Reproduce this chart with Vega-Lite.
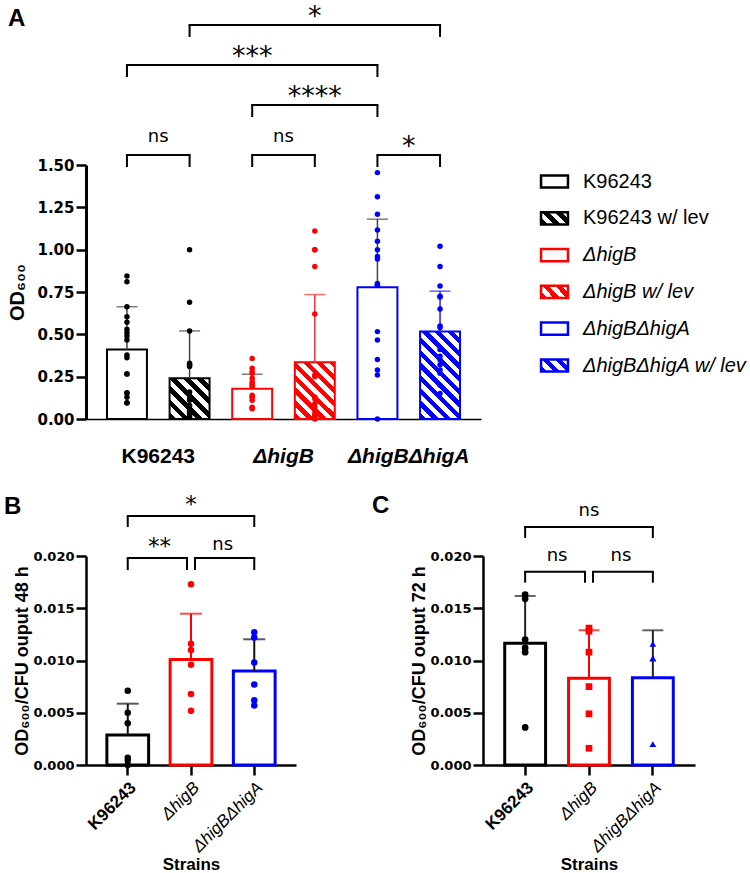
{
"$schema":"https://vega.github.io/schema/vega-lite/v6.json",
"background":"white",
"padding":{"left":3,"top":2,"right":5,"bottom":2},
"config":{"view":{"stroke":null},"font":"Liberation Sans","axis":{"grid":false}},
"datasets":{
"aBars":[
{"bar":"K96243","mean":0.41,"upper":0.663},
{"bar":"K96243 w/ lev","mean":0.24,"upper":0.52},
{"bar":"ΔhigB","mean":0.178,"upper":0.264},
{"bar":"ΔhigB w/ lev","mean":0.335,"upper":0.735},
{"bar":"ΔhigBΔhigA","mean":0.778,"upper":1.18},
{"bar":"ΔhigBΔhigA w/ lev","mean":0.516,"upper":0.755}],
"aPoints":[
{"bar":"K96243","value":0.845},{"bar":"K96243","value":0.81},{"bar":"K96243","value":0.663},{"bar":"K96243","value":0.604},{"bar":"K96243","value":0.571},{"bar":"K96243","value":0.53},{"bar":"K96243","value":0.51},{"bar":"K96243","value":0.49},{"bar":"K96243","value":0.467},{"bar":"K96243","value":0.378},{"bar":"K96243","value":0.362},{"bar":"K96243","value":0.268},{"bar":"K96243","value":0.265},{"bar":"K96243","value":0.155},{"bar":"K96243","value":0.152},{"bar":"K96243","value":0.128},{"bar":"K96243","value":0.096},{"bar":"K96243","value":0.094},
{"bar":"K96243 w/ lev","value":1.0},{"bar":"K96243 w/ lev","value":0.69},{"bar":"K96243 w/ lev","value":0.52},{"bar":"K96243 w/ lev","value":0.33},{"bar":"K96243 w/ lev","value":0.32},{"bar":"K96243 w/ lev","value":0.32},{"bar":"K96243 w/ lev","value":0.31},{"bar":"K96243 w/ lev","value":0.16},{"bar":"K96243 w/ lev","value":0.12},{"bar":"K96243 w/ lev","value":0.11},{"bar":"K96243 w/ lev","value":0.08},{"bar":"K96243 w/ lev","value":0.06},{"bar":"K96243 w/ lev","value":0.05},{"bar":"K96243 w/ lev","value":0.04},{"bar":"K96243 w/ lev","value":0.03},{"bar":"K96243 w/ lev","value":0.02},{"bar":"K96243 w/ lev","value":0.01},
{"bar":"ΔhigB","value":0.358},{"bar":"ΔhigB","value":0.30},{"bar":"ΔhigB","value":0.28},{"bar":"ΔhigB","value":0.27},{"bar":"ΔhigB","value":0.24},{"bar":"ΔhigB","value":0.22},{"bar":"ΔhigB","value":0.21},{"bar":"ΔhigB","value":0.20},{"bar":"ΔhigB","value":0.19},{"bar":"ΔhigB","value":0.14},{"bar":"ΔhigB","value":0.13},{"bar":"ΔhigB","value":0.125},{"bar":"ΔhigB","value":0.11},{"bar":"ΔhigB","value":0.07},{"bar":"ΔhigB","value":0.065},{"bar":"ΔhigB","value":0.06},
{"bar":"ΔhigB w/ lev","value":1.11},{"bar":"ΔhigB w/ lev","value":1.0},{"bar":"ΔhigB w/ lev","value":1.0},{"bar":"ΔhigB w/ lev","value":0.90},{"bar":"ΔhigB w/ lev","value":0.62},{"bar":"ΔhigB w/ lev","value":0.26},{"bar":"ΔhigB w/ lev","value":0.25},{"bar":"ΔhigB w/ lev","value":0.13},{"bar":"ΔhigB w/ lev","value":0.12},{"bar":"ΔhigB w/ lev","value":0.09},{"bar":"ΔhigB w/ lev","value":0.07},{"bar":"ΔhigB w/ lev","value":0.05},{"bar":"ΔhigB w/ lev","value":0.03},{"bar":"ΔhigB w/ lev","value":0.02},{"bar":"ΔhigB w/ lev","value":0.01},{"bar":"ΔhigB w/ lev","value":0.01},{"bar":"ΔhigB w/ lev","value":0.0},
{"bar":"ΔhigBΔhigA","value":1.455},{"bar":"ΔhigBΔhigA","value":1.313},{"bar":"ΔhigBΔhigA","value":1.209},{"bar":"ΔhigBΔhigA","value":1.116},{"bar":"ΔhigBΔhigA","value":1.05},{"bar":"ΔhigBΔhigA","value":1.0},{"bar":"ΔhigBΔhigA","value":0.96},{"bar":"ΔhigBΔhigA","value":0.945},{"bar":"ΔhigBΔhigA","value":0.80},{"bar":"ΔhigBΔhigA","value":0.79},{"bar":"ΔhigBΔhigA","value":0.79},{"bar":"ΔhigBΔhigA","value":0.516},{"bar":"ΔhigBΔhigA","value":0.467},{"bar":"ΔhigBΔhigA","value":0.352},{"bar":"ΔhigBΔhigA","value":0.29},{"bar":"ΔhigBΔhigA","value":0.26},{"bar":"ΔhigBΔhigA","value":0.0},
{"bar":"ΔhigBΔhigA w/ lev","value":1.02},{"bar":"ΔhigBΔhigA w/ lev","value":0.90},{"bar":"ΔhigBΔhigA w/ lev","value":0.785},{"bar":"ΔhigBΔhigA w/ lev","value":0.725},{"bar":"ΔhigBΔhigA w/ lev","value":0.72},{"bar":"ΔhigBΔhigA w/ lev","value":0.65},{"bar":"ΔhigBΔhigA w/ lev","value":0.55},{"bar":"ΔhigBΔhigA w/ lev","value":0.54},{"bar":"ΔhigBΔhigA w/ lev","value":0.41},{"bar":"ΔhigBΔhigA w/ lev","value":0.37},{"bar":"ΔhigBΔhigA w/ lev","value":0.35},{"bar":"ΔhigBΔhigA w/ lev","value":0.32},{"bar":"ΔhigBΔhigA w/ lev","value":0.29},{"bar":"ΔhigBΔhigA w/ lev","value":0.27},{"bar":"ΔhigBΔhigA w/ lev","value":0.2},{"bar":"ΔhigBΔhigA w/ lev","value":0.15}],
"aBrackets":[
{"from":"K96243","to":"K96243 w/ lev","level":1.559},
{"from":"ΔhigB","to":"ΔhigB w/ lev","level":1.559},
{"from":"ΔhigBΔhigA","to":"ΔhigBΔhigA w/ lev","level":1.559},
{"from":"ΔhigB","to":"ΔhigBΔhigA","level":1.854},
{"from":"K96243","to":"ΔhigBΔhigA","level":2.09},
{"from":"K96243 w/ lev","to":"ΔhigBΔhigA w/ lev","level":2.327}],
"aFar":[
{"mid":"ΔhigB","level":2.09,"label":"***"},
{"mid":"ΔhigB w/ lev","level":1.854,"label":"****"},
{"mid":"ΔhigB w/ lev","level":2.327,"label":"*"}],
"aNear":[
{"group":"K96243","level":1.559,"label":"ns"},
{"group":"ΔhigB","level":1.559,"label":"ns"},
{"group":"ΔhigBΔhigA","level":1.559,"label":"*"}],
"bBars":[
{"strain":"K96243","mean":0.00287,"upper":0.00587},
{"strain":"ΔhigB","mean":0.0101,"upper":0.01448},
{"strain":"ΔhigBΔhigA","mean":0.009,"upper":0.01203}],
"bPoints":[
{"strain":"K96243","value":0.0071},{"strain":"K96243","value":0.0050},{"strain":"K96243","value":0.0040},{"strain":"K96243","value":0.0007},{"strain":"K96243","value":0.0004},{"strain":"K96243","value":0.0},
{"strain":"ΔhigB","value":0.0173},{"strain":"ΔhigB","value":0.0116},{"strain":"ΔhigB","value":0.0110},{"strain":"ΔhigB","value":0.0096},{"strain":"ΔhigB","value":0.0068},{"strain":"ΔhigB","value":0.0052},
{"strain":"ΔhigBΔhigA","value":0.0127},{"strain":"ΔhigBΔhigA","value":0.0122},{"strain":"ΔhigBΔhigA","value":0.0098},{"strain":"ΔhigBΔhigA","value":0.0077},{"strain":"ΔhigBΔhigA","value":0.0062},{"strain":"ΔhigBΔhigA","value":0.0057}],
"bBrackets":[
{"from":"K96243","to":"ΔhigB","level":0.0198},
{"from":"ΔhigB","to":"ΔhigBΔhigA","level":0.0198},
{"from":"K96243","to":"ΔhigBΔhigA","level":0.02383}],
"bNear":[
{"from":"K96243","level":0.0198,"label":"**"},
{"from":"ΔhigB","level":0.0198,"label":"ns"}],
"bFar":[{"mid":"ΔhigB","level":0.02383,"label":"*"}],
"cBars":[
{"strain":"K96243","mean":0.01164,"upper":0.01617},
{"strain":"ΔhigB","mean":0.0083,"upper":0.0129},
{"strain":"ΔhigBΔhigA","mean":0.00836,"upper":0.01289}],
"cPoints":[
{"strain":"K96243","value":0.0163},{"strain":"K96243","value":0.0159},{"strain":"K96243","value":0.0120},{"strain":"K96243","value":0.0112},{"strain":"K96243","value":0.0108},{"strain":"K96243","value":0.0036},
{"strain":"ΔhigB","value":0.0131},{"strain":"ΔhigB","value":0.0128},{"strain":"ΔhigB","value":0.0108},{"strain":"ΔhigB","value":0.0075},{"strain":"ΔhigB","value":0.0049},{"strain":"ΔhigB","value":0.0016},
{"strain":"ΔhigBΔhigA","value":0.0116},{"strain":"ΔhigBΔhigA","value":0.0102},{"strain":"ΔhigBΔhigA","value":0.0102},{"strain":"ΔhigBΔhigA","value":0.0020}],
"cBrackets":[
{"from":"K96243","to":"ΔhigB","level":0.0185},
{"from":"ΔhigB","to":"ΔhigBΔhigA","level":0.0185},
{"from":"K96243","to":"ΔhigBΔhigA","level":0.02278}],
"cNear":[
{"from":"K96243","level":0.0185,"label":"ns"},
{"from":"ΔhigB","level":0.0185,"label":"ns"}],
"cFar":[{"mid":"ΔhigB","level":0.02278,"label":"ns"}]
},
"spacing":27,
"resolve":{"scale":{"stroke":"independent","fill":"independent","color":"independent","shape":"independent"}},
"vconcat":[
{
"width":395,"height":254,
"title":{"text":"A","anchor":"start","frame":"bounds","font":"Liberation Sans","fontSize":24,"fontWeight":"bold","color":"#000","baseline":"top","offset":-28},
"resolve":{"scale":{"x":"independent"}},
"layer":[
{"layer":[
{"data":{"name":"aBars"},
"mark":{"type":"bar","strokeWidth":2,"strokeJoin":"miter"},
"encoding":{
"x":{"field":"bar","type":"nominal","sort":null,"scale":{"type":"band","domain":["K96243","K96243 w/ lev","ΔhigB","ΔhigB w/ lev","ΔhigBΔhigA","ΔhigBΔhigA w/ lev"],"paddingInner":0.362,"paddingOuter":0.335},"axis":null},
"y":{"field":"mean","type":"quantitative","scale":{"domain":[0,1.5],"nice":false},"axis":{"title":"OD₆₀₀","values":[0,0.25,0.5,0.75,1,1.25,1.5],"format":".2f","domainColor":"#000","domainWidth":3,"tickColor":"#000","tickWidth":2.5,"tickSize":10,"labelFont":"DejaVu Sans","labelFontSize":15,"labelFontWeight":"bold","labelColor":"#000","labelPadding":2,"titleFont":"Liberation Sans","titleFontSize":20,"titleFontWeight":"bold","titleColor":"#000","titlePadding":9}},
"stroke":{"field":"bar","type":"nominal","scale":{"domain":["K96243","K96243 w/ lev","ΔhigB","ΔhigB w/ lev","ΔhigBΔhigA","ΔhigBΔhigA w/ lev"],"range":["#000000","#000000","#ff0000","#ff0000","#0000ff","#0000ff"]},
"legend":{"orient":"none","legendX":455,"legendY":3,"title":null,"symbolType":"M-1.1,-0.5H1.1V0.5H-1.1Z","symbolSize":600,"symbolStrokeWidth":2.5,"symbolFillColor":"#ffffff","labelFont":"Liberation Sans","labelFontSize":20,"labelColor":"#000","labelOffset":15,"rowPadding":11.8,"labelLimit":300,
"encoding":{
"symbols":{"fill":{"condition":[
{"test":"datum.value === 'K96243 w/ lev'","value":{"gradient":"linear","x1":0,"y1":1,"x2":1.2,"y2":0.46,"stops":[{"offset":0,"color":"#000000"},{"offset":0.1667,"color":"#000000"},{"offset":0.1667,"color":"#ffffff"},{"offset":0.3333,"color":"#ffffff"},{"offset":0.3333,"color":"#000000"},{"offset":0.5,"color":"#000000"},{"offset":0.5,"color":"#ffffff"},{"offset":0.6667,"color":"#ffffff"},{"offset":0.6667,"color":"#000000"},{"offset":0.8333,"color":"#000000"},{"offset":0.8333,"color":"#ffffff"},{"offset":1,"color":"#ffffff"}]}},
{"test":"datum.value === 'ΔhigB w/ lev'","value":{"gradient":"linear","x1":0,"y1":1,"x2":1.2,"y2":0.46,"stops":[{"offset":0,"color":"#ff0000"},{"offset":0.1667,"color":"#ff0000"},{"offset":0.1667,"color":"#ffffff"},{"offset":0.3333,"color":"#ffffff"},{"offset":0.3333,"color":"#ff0000"},{"offset":0.5,"color":"#ff0000"},{"offset":0.5,"color":"#ffffff"},{"offset":0.6667,"color":"#ffffff"},{"offset":0.6667,"color":"#ff0000"},{"offset":0.8333,"color":"#ff0000"},{"offset":0.8333,"color":"#ffffff"},{"offset":1,"color":"#ffffff"}]}},
{"test":"datum.value === 'ΔhigBΔhigA w/ lev'","value":{"gradient":"linear","x1":0,"y1":1,"x2":1.2,"y2":0.46,"stops":[{"offset":0,"color":"#0000ff"},{"offset":0.1667,"color":"#0000ff"},{"offset":0.1667,"color":"#ffffff"},{"offset":0.3333,"color":"#ffffff"},{"offset":0.3333,"color":"#0000ff"},{"offset":0.5,"color":"#0000ff"},{"offset":0.5,"color":"#ffffff"},{"offset":0.6667,"color":"#ffffff"},{"offset":0.6667,"color":"#0000ff"},{"offset":0.8333,"color":"#0000ff"},{"offset":0.8333,"color":"#ffffff"},{"offset":1,"color":"#ffffff"}]}}
],"value":"#ffffff"}},
"labels":{"fontStyle":{"condition":{"test":"indexof(datum.value, 'Δ') === 0","value":"italic"},"value":"normal"}}
}}},
"fill":{"condition":[
{"test":"datum.bar === 'K96243 w/ lev'","value":{"gradient":"linear","x1":0,"y1":1,"x2":0.99,"y2":-0.01,"stops":[{"offset":0,"color":"#000000"},{"offset":0.0833,"color":"#000000"},{"offset":0.0833,"color":"#ffffff"},{"offset":0.1667,"color":"#ffffff"},{"offset":0.1667,"color":"#000000"},{"offset":0.25,"color":"#000000"},{"offset":0.25,"color":"#ffffff"},{"offset":0.3333,"color":"#ffffff"},{"offset":0.3333,"color":"#000000"},{"offset":0.4167,"color":"#000000"},{"offset":0.4167,"color":"#ffffff"},{"offset":0.5,"color":"#ffffff"},{"offset":0.5,"color":"#000000"},{"offset":0.5833,"color":"#000000"},{"offset":0.5833,"color":"#ffffff"},{"offset":0.6667,"color":"#ffffff"},{"offset":0.6667,"color":"#000000"},{"offset":0.75,"color":"#000000"},{"offset":0.75,"color":"#ffffff"},{"offset":0.8333,"color":"#ffffff"},{"offset":0.8333,"color":"#000000"},{"offset":0.9167,"color":"#000000"},{"offset":0.9167,"color":"#ffffff"},{"offset":1,"color":"#ffffff"}]}},
{"test":"datum.bar === 'ΔhigB w/ lev'","value":{"gradient":"linear","x1":0,"y1":1,"x2":0.8,"y2":-0.14,"stops":[{"offset":0,"color":"#ff0000"},{"offset":0.0667,"color":"#ff0000"},{"offset":0.0667,"color":"#ffffff"},{"offset":0.1333,"color":"#ffffff"},{"offset":0.1333,"color":"#ff0000"},{"offset":0.2,"color":"#ff0000"},{"offset":0.2,"color":"#ffffff"},{"offset":0.2667,"color":"#ffffff"},{"offset":0.2667,"color":"#ff0000"},{"offset":0.3333,"color":"#ff0000"},{"offset":0.3333,"color":"#ffffff"},{"offset":0.4,"color":"#ffffff"},{"offset":0.4,"color":"#ff0000"},{"offset":0.4667,"color":"#ff0000"},{"offset":0.4667,"color":"#ffffff"},{"offset":0.5333,"color":"#ffffff"},{"offset":0.5333,"color":"#ff0000"},{"offset":0.6,"color":"#ff0000"},{"offset":0.6,"color":"#ffffff"},{"offset":0.6667,"color":"#ffffff"},{"offset":0.6667,"color":"#ff0000"},{"offset":0.7333,"color":"#ff0000"},{"offset":0.7333,"color":"#ffffff"},{"offset":0.8,"color":"#ffffff"},{"offset":0.8,"color":"#ff0000"},{"offset":0.8667,"color":"#ff0000"},{"offset":0.8667,"color":"#ffffff"},{"offset":0.9333,"color":"#ffffff"},{"offset":0.9333,"color":"#ff0000"},{"offset":1,"color":"#ff0000"}]}},
{"test":"datum.bar === 'ΔhigBΔhigA w/ lev'","value":{"gradient":"linear","x1":0,"y1":1,"x2":0.55,"y2":-0.2,"stops":[{"offset":0,"color":"#0000ff"},{"offset":0.05,"color":"#0000ff"},{"offset":0.05,"color":"#ffffff"},{"offset":0.1,"color":"#ffffff"},{"offset":0.1,"color":"#0000ff"},{"offset":0.15,"color":"#0000ff"},{"offset":0.15,"color":"#ffffff"},{"offset":0.2,"color":"#ffffff"},{"offset":0.2,"color":"#0000ff"},{"offset":0.25,"color":"#0000ff"},{"offset":0.25,"color":"#ffffff"},{"offset":0.3,"color":"#ffffff"},{"offset":0.3,"color":"#0000ff"},{"offset":0.35,"color":"#0000ff"},{"offset":0.35,"color":"#ffffff"},{"offset":0.4,"color":"#ffffff"},{"offset":0.4,"color":"#0000ff"},{"offset":0.45,"color":"#0000ff"},{"offset":0.45,"color":"#ffffff"},{"offset":0.5,"color":"#ffffff"},{"offset":0.5,"color":"#0000ff"},{"offset":0.55,"color":"#0000ff"},{"offset":0.55,"color":"#ffffff"},{"offset":0.6,"color":"#ffffff"},{"offset":0.6,"color":"#0000ff"},{"offset":0.65,"color":"#0000ff"},{"offset":0.65,"color":"#ffffff"},{"offset":0.7,"color":"#ffffff"},{"offset":0.7,"color":"#0000ff"},{"offset":0.75,"color":"#0000ff"},{"offset":0.75,"color":"#ffffff"},{"offset":0.8,"color":"#ffffff"},{"offset":0.8,"color":"#0000ff"},{"offset":0.85,"color":"#0000ff"},{"offset":0.85,"color":"#ffffff"},{"offset":0.9,"color":"#ffffff"},{"offset":0.9,"color":"#0000ff"},{"offset":0.95,"color":"#0000ff"},{"offset":0.95,"color":"#ffffff"},{"offset":1,"color":"#ffffff"}]}}
],"value":"#ffffff"}
}},
{"data":{"name":"aBars"},"mark":{"type":"rule","strokeWidth":1.5},
"encoding":{"x":{"field":"bar","type":"nominal"},"y":{"field":"mean","type":"quantitative"},"y2":{"field":"upper"},
"color":{"condition":[{"test":"datum.bar === 'ΔhigB w/ lev'","value":"#ff3030"},{"test":"datum.bar === 'ΔhigBΔhigA w/ lev'","value":"#2020ff"}],"value":"#444444"}}},
{"data":{"name":"aBars"},"mark":{"type":"tick","orient":"horizontal","size":21,"thickness":1.5},
"encoding":{"x":{"field":"bar","type":"nominal"},"y":{"field":"upper","type":"quantitative"},
"color":{"condition":[{"test":"datum.bar === 'ΔhigB w/ lev'","value":"#ff3030"},{"test":"datum.bar === 'ΔhigBΔhigA w/ lev'","value":"#2020ff"}],"value":"#444444"}}},
{"data":{"name":"aPoints"},"mark":{"type":"circle","size":30,"opacity":1},
"encoding":{"x":{"field":"bar","type":"nominal"},"y":{"field":"value","type":"quantitative"},
"fill":{"field":"bar","type":"nominal","scale":{"domain":["ΔhigBΔhigA w/ lev","ΔhigBΔhigA","ΔhigB w/ lev","ΔhigB","K96243 w/ lev","K96243"],"range":["#0000ff","#0000ff","#ff0000","#ff0000","#000000","#000000"]},"legend":null}}},
{"data":{"name":"aBrackets"},"mark":{"type":"rule","stroke":"#000","strokeWidth":2,"strokeCap":"square"},
"encoding":{"x":{"field":"from","type":"nominal"},"x2":{"field":"to"},"y":{"field":"level","type":"quantitative"}}},
{"data":{"name":"aBrackets"},"mark":{"type":"rule","stroke":"#000","strokeWidth":2,"y2Offset":12},
"encoding":{"x":{"field":"from","type":"nominal"},"y":{"field":"level","type":"quantitative"},"y2":{"field":"level"}}},
{"data":{"name":"aBrackets"},"mark":{"type":"rule","stroke":"#000","strokeWidth":2,"y2Offset":12},
"encoding":{"x":{"field":"to","type":"nominal"},"y":{"field":"level","type":"quantitative"},"y2":{"field":"level"}}},
{"data":{"name":"aFar"},"mark":{"type":"text","font":"DejaVu Sans","fontSize":27,"baseline":"alphabetic","color":"#000"},
"encoding":{"x":{"field":"mid","type":"nominal"},"y":{"field":"level","type":"quantitative"},"text":{"field":"label"}}}
]},
{"layer":[
{"data":{"name":"aNear"},"transform":[{"filter":"datum.label === 'ns'"}],
"mark":{"type":"text","font":"DejaVu Sans","fontSize":18,"baseline":"alphabetic","dy":-13,"color":"#000"},
"encoding":{
"x":{"field":"group","type":"nominal","sort":null,"scale":{"type":"band","domain":["K96243","ΔhigB","ΔhigBΔhigA"],"paddingInner":0,"paddingOuter":0.077},
"axis":{"orient":"bottom","title":null,"domainColor":"#000","domainWidth":1.5,"ticks":false,"labelAngle":0,"labelFont":"Liberation Sans","labelFontSize":21,"labelFontWeight":"bold","labelColor":"#000","labelPadding":26,"labelFontStyle":{"condition":{"test":"datum.value !== 'K96243'","value":"italic"},"value":"normal"}}},
"y":{"field":"level","type":"quantitative"},"text":{"field":"label"}}},
{"data":{"name":"aNear"},"transform":[{"filter":"datum.label !== 'ns'"}],
"mark":{"type":"text","font":"DejaVu Sans","fontSize":27,"baseline":"alphabetic","color":"#000"},
"encoding":{"x":{"field":"group","type":"nominal"},"y":{"field":"level","type":"quantitative"},"text":{"field":"label"}}}
]}
]
},
{
"hconcat":[
{
"width":210,"height":209,
"title":{"text":"B","anchor":"start","frame":"bounds","font":"Liberation Sans","fontSize":24,"fontWeight":"bold","color":"#000","baseline":"top","offset":-25,"dx":-10},
"layer":[
{"data":{"name":"bBars"},"mark":{"type":"bar","strokeWidth":3,"fill":"#ffffff","strokeJoin":"miter"},
"encoding":{
"x":{"field":"strain","type":"nominal","sort":null,"scale":{"type":"band","domain":["K96243","ΔhigB","ΔhigBΔhigA"],"paddingInner":0.34,"paddingOuter":0.33},
"axis":{"title":"Strains","labelAngle":-45,"labelFont":"Liberation Sans","labelFontSize":17,"labelColor":"#000","labelFontWeight":{"condition":{"test":"datum.value === 'K96243'","value":"bold"},"value":"normal"},"labelFontStyle":{"condition":{"test":"datum.value !== 'K96243'","value":"italic"},"value":"normal"},"tickSize":10,"tickWidth":2.5,"tickColor":"#000","domainWidth":2.5,"domainColor":"#000","labelPadding":4,"titleFont":"Liberation Sans","titleFontSize":17,"titleFontWeight":"bold","titleColor":"#000","titlePadding":2}},
"y":{"field":"mean","type":"quantitative","scale":{"domain":[0,0.02],"nice":false},
"axis":{"title":"OD₆₀₀/CFU ouput 48 h","values":[0,0.005,0.01,0.015,0.02],"format":".3f","domainColor":"#000","domainWidth":2.5,"tickColor":"#000","tickWidth":2.5,"tickSize":10,"labelFont":"DejaVu Sans","labelFontSize":13,"labelFontWeight":"bold","labelColor":"#000","labelPadding":2,"titleFont":"Liberation Sans","titleFontSize":18,"titleFontWeight":"bold","titleColor":"#000","titlePadding":1}},
"stroke":{"field":"strain","type":"nominal","scale":{"domain":["K96243","ΔhigB","ΔhigBΔhigA"],"range":["#000000","#ff0000","#0000ff"]},"legend":null}}},
{"data":{"name":"bBars"},"mark":{"type":"rule","strokeWidth":2},
"encoding":{"x":{"field":"strain","type":"nominal"},"y":{"field":"mean","type":"quantitative"},"y2":{"field":"upper"},
"color":{"condition":{"test":"datum.strain === 'ΔhigB'","value":"#ff0000"},"value":"#111111"}}},
{"data":{"name":"bBars"},"mark":{"type":"tick","orient":"horizontal","size":22,"thickness":2},
"encoding":{"x":{"field":"strain","type":"nominal"},"y":{"field":"upper","type":"quantitative"},
"color":{"condition":{"test":"datum.strain === 'ΔhigB'","value":"#ff0000"},"value":"#111111"}}},
{"data":{"name":"bPoints"},"mark":{"type":"circle","size":42,"opacity":1},
"encoding":{"x":{"field":"strain","type":"nominal"},"y":{"field":"value","type":"quantitative"},
"fill":{"field":"strain","type":"nominal","scale":{"domain":["ΔhigBΔhigA","ΔhigB","K96243"],"range":["#0000ff","#ff0000","#000000"]},"legend":null}}},
{"data":{"name":"bBrackets"},"transform":[{"filter":"datum.to === 'ΔhigB'"}],"layer":[
{"mark":{"type":"rule","stroke":"#000","strokeWidth":2,"strokeCap":"square","x2Offset":-4},"encoding":{"x":{"field":"from","type":"nominal"},"x2":{"field":"to"},"y":{"field":"level","type":"quantitative"}}},
{"mark":{"type":"rule","stroke":"#000","strokeWidth":2,"y2Offset":12},"encoding":{"x":{"field":"from","type":"nominal"},"y":{"field":"level","type":"quantitative"},"y2":{"field":"level"}}},
{"mark":{"type":"rule","stroke":"#000","strokeWidth":2,"y2Offset":12,"xOffset":-4},"encoding":{"x":{"field":"to","type":"nominal"},"y":{"field":"level","type":"quantitative"},"y2":{"field":"level"}}}
]},
{"data":{"name":"bBrackets"},"transform":[{"filter":"datum.from === 'ΔhigB'"}],"layer":[
{"mark":{"type":"rule","stroke":"#000","strokeWidth":2,"strokeCap":"square","xOffset":4},"encoding":{"x":{"field":"from","type":"nominal"},"x2":{"field":"to"},"y":{"field":"level","type":"quantitative"}}},
{"mark":{"type":"rule","stroke":"#000","strokeWidth":2,"y2Offset":12,"xOffset":4},"encoding":{"x":{"field":"from","type":"nominal"},"y":{"field":"level","type":"quantitative"},"y2":{"field":"level"}}},
{"mark":{"type":"rule","stroke":"#000","strokeWidth":2,"y2Offset":12},"encoding":{"x":{"field":"to","type":"nominal"},"y":{"field":"level","type":"quantitative"},"y2":{"field":"level"}}}
]},
{"data":{"name":"bBrackets"},"transform":[{"filter":"datum.from === 'K96243' && datum.to === 'ΔhigBΔhigA'"}],"layer":[
{"mark":{"type":"rule","stroke":"#000","strokeWidth":2,"strokeCap":"square"},"encoding":{"x":{"field":"from","type":"nominal"},"x2":{"field":"to"},"y":{"field":"level","type":"quantitative"}}},
{"mark":{"type":"rule","stroke":"#000","strokeWidth":2,"y2Offset":11},"encoding":{"x":{"field":"from","type":"nominal"},"y":{"field":"level","type":"quantitative"},"y2":{"field":"level"}}},
{"mark":{"type":"rule","stroke":"#000","strokeWidth":2,"y2Offset":11},"encoding":{"x":{"field":"to","type":"nominal"},"y":{"field":"level","type":"quantitative"},"y2":{"field":"level"}}}
]},
{"data":{"name":"bNear"},"transform":[{"filter":"datum.label !== 'ns'"}],"mark":{"type":"text","font":"DejaVu Sans","fontSize":23,"baseline":"alphabetic","dy":-4,"color":"#000"},
"encoding":{"x":{"field":"from","type":"nominal","bandPosition":1.258},"y":{"field":"level","type":"quantitative"},"text":{"field":"label"}}},
{"data":{"name":"bNear"},"transform":[{"filter":"datum.label === 'ns'"}],"mark":{"type":"text","font":"DejaVu Sans","fontSize":18,"baseline":"alphabetic","dy":-8,"color":"#000"},
"encoding":{"x":{"field":"from","type":"nominal","bandPosition":1.258},"y":{"field":"level","type":"quantitative"},"text":{"field":"label"}}},
{"data":{"name":"bFar"},"mark":{"type":"text","font":"DejaVu Sans","fontSize":23,"baseline":"alphabetic","dy":-4,"color":"#000"},
"encoding":{"x":{"field":"mid","type":"nominal"},"y":{"field":"level","type":"quantitative"},"text":{"field":"label"}}}
]
},
{
"width":212,"height":209,
"title":{"text":"C","anchor":"start","frame":"bounds","font":"Liberation Sans","fontSize":24,"fontWeight":"bold","color":"#000","baseline":"top","offset":-16,"dx":-39},
"layer":[
{"data":{"name":"cBars"},"mark":{"type":"bar","strokeWidth":3,"fill":"#ffffff","strokeJoin":"miter"},
"encoding":{
"x":{"field":"strain","type":"nominal","sort":null,"scale":{"type":"band","domain":["K96243","ΔhigB","ΔhigBΔhigA"],"paddingInner":0.36,"paddingOuter":0.34},
"axis":{"title":"Strains","labelAngle":-45,"labelFont":"Liberation Sans","labelFontSize":17,"labelColor":"#000","labelFontWeight":{"condition":{"test":"datum.value === 'K96243'","value":"bold"},"value":"normal"},"labelFontStyle":{"condition":{"test":"datum.value !== 'K96243'","value":"italic"},"value":"normal"},"tickSize":10,"tickWidth":2.5,"tickColor":"#000","domainWidth":2.5,"domainColor":"#000","labelPadding":4,"titleFont":"Liberation Sans","titleFontSize":17,"titleFontWeight":"bold","titleColor":"#000","titlePadding":2}},
"y":{"field":"mean","type":"quantitative","scale":{"domain":[0,0.02],"nice":false},
"axis":{"title":"OD₆₀₀/CFU ouput 72 h","values":[0,0.005,0.01,0.015,0.02],"format":".3f","domainColor":"#000","domainWidth":2.5,"tickColor":"#000","tickWidth":2.5,"tickSize":10,"labelFont":"DejaVu Sans","labelFontSize":13,"labelFontWeight":"bold","labelColor":"#000","labelPadding":2,"titleFont":"Liberation Sans","titleFontSize":18,"titleFontWeight":"bold","titleColor":"#000","titlePadding":1}},
"stroke":{"field":"strain","type":"nominal","scale":{"domain":["K96243","ΔhigB","ΔhigBΔhigA"],"range":["#000000","#ff0000","#0000ff"]},"legend":null}}},
{"data":{"name":"cBars"},"mark":{"type":"rule","strokeWidth":2},
"encoding":{"x":{"field":"strain","type":"nominal"},"y":{"field":"mean","type":"quantitative"},"y2":{"field":"upper"},
"color":{"condition":{"test":"datum.strain === 'ΔhigB'","value":"#ff0000"},"value":"#222222"}}},
{"data":{"name":"cBars"},"mark":{"type":"tick","orient":"horizontal","size":21,"thickness":2},
"encoding":{"x":{"field":"strain","type":"nominal"},"y":{"field":"upper","type":"quantitative"},
"color":{"condition":{"test":"datum.strain === 'ΔhigB'","value":"#ff0000"},"value":"#222222"}}},
{"data":{"name":"cPoints"},"mark":{"type":"point","filled":true,"size":45,"opacity":1},
"encoding":{"x":{"field":"strain","type":"nominal"},"y":{"field":"value","type":"quantitative"},
"color":{"field":"strain","type":"nominal","scale":{"domain":["ΔhigBΔhigA","ΔhigB","K96243"],"range":["#0000ff","#ff0000","#000000"]},"legend":null},
"shape":{"field":"strain","type":"nominal","scale":{"domain":["K96243","ΔhigB","ΔhigBΔhigA"],"range":["circle","square","triangle-up"]},"legend":null}}},
{"data":{"name":"cBrackets"},"transform":[{"filter":"datum.to === 'ΔhigB'"}],"layer":[
{"mark":{"type":"rule","stroke":"#000","strokeWidth":2,"strokeCap":"square","x2Offset":-4},"encoding":{"x":{"field":"from","type":"nominal"},"x2":{"field":"to"},"y":{"field":"level","type":"quantitative"}}},
{"mark":{"type":"rule","stroke":"#000","strokeWidth":2,"y2Offset":11},"encoding":{"x":{"field":"from","type":"nominal"},"y":{"field":"level","type":"quantitative"},"y2":{"field":"level"}}},
{"mark":{"type":"rule","stroke":"#000","strokeWidth":2,"y2Offset":11,"xOffset":-4},"encoding":{"x":{"field":"to","type":"nominal"},"y":{"field":"level","type":"quantitative"},"y2":{"field":"level"}}}
]},
{"data":{"name":"cBrackets"},"transform":[{"filter":"datum.from === 'ΔhigB'"}],"layer":[
{"mark":{"type":"rule","stroke":"#000","strokeWidth":2,"strokeCap":"square","xOffset":4},"encoding":{"x":{"field":"from","type":"nominal"},"x2":{"field":"to"},"y":{"field":"level","type":"quantitative"}}},
{"mark":{"type":"rule","stroke":"#000","strokeWidth":2,"y2Offset":11,"xOffset":4},"encoding":{"x":{"field":"from","type":"nominal"},"y":{"field":"level","type":"quantitative"},"y2":{"field":"level"}}},
{"mark":{"type":"rule","stroke":"#000","strokeWidth":2,"y2Offset":11},"encoding":{"x":{"field":"to","type":"nominal"},"y":{"field":"level","type":"quantitative"},"y2":{"field":"level"}}}
]},
{"data":{"name":"cBrackets"},"transform":[{"filter":"datum.from === 'K96243' && datum.to === 'ΔhigBΔhigA'"}],"layer":[
{"mark":{"type":"rule","stroke":"#000","strokeWidth":2,"strokeCap":"square"},"encoding":{"x":{"field":"from","type":"nominal"},"x2":{"field":"to"},"y":{"field":"level","type":"quantitative"}}},
{"mark":{"type":"rule","stroke":"#000","strokeWidth":2,"y2Offset":11},"encoding":{"x":{"field":"from","type":"nominal"},"y":{"field":"level","type":"quantitative"},"y2":{"field":"level"}}},
{"mark":{"type":"rule","stroke":"#000","strokeWidth":2,"y2Offset":11},"encoding":{"x":{"field":"to","type":"nominal"},"y":{"field":"level","type":"quantitative"},"y2":{"field":"level"}}}
]},
{"data":{"name":"cNear"},"mark":{"type":"text","font":"DejaVu Sans","fontSize":18,"baseline":"alphabetic","dy":-11,"color":"#000"},
"encoding":{"x":{"field":"from","type":"nominal","bandPosition":1.28},"y":{"field":"level","type":"quantitative"},"text":{"field":"label"}}},
{"data":{"name":"cFar"},"mark":{"type":"text","font":"DejaVu Sans","fontSize":18,"baseline":"alphabetic","dy":-11,"color":"#000"},
"encoding":{"x":{"field":"mid","type":"nominal"},"y":{"field":"level","type":"quantitative"},"text":{"field":"label"}}}
]
}
],
"spacing":75,
"resolve":{"scale":{"stroke":"independent","fill":"independent","color":"independent","shape":"independent"}}
}
]
}
